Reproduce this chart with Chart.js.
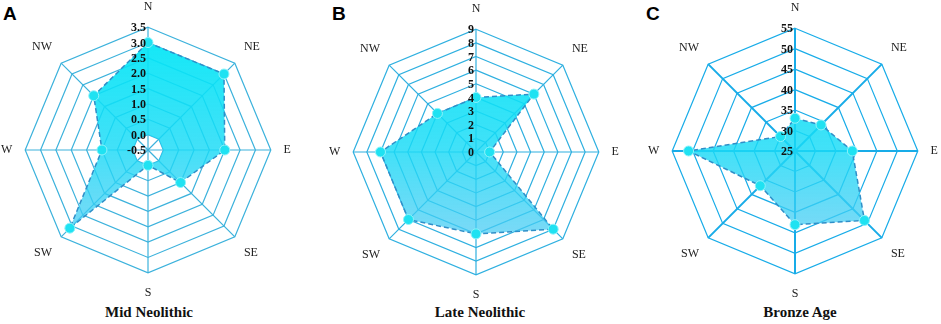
<!DOCTYPE html>
<html>
<head>
<meta charset="utf-8">
<script src="https://cdn.jsdelivr.net/npm/chart.js@4.4.0/dist/chart.umd.min.js"></script>
<style>
  body { margin: 0; width: 941px; height: 324px; overflow: hidden; background: #fff; position: relative; }
  canvas { position: absolute; }
  .letter { position: absolute; font: bold 19px "Liberation Sans", Arial, sans-serif; line-height: 19px; color: #000; }
  .title { position: absolute; width: 200px; text-align: center; font: bold 15px "Liberation Serif", "Times New Roman", serif; line-height: 15px; color: #111; }
</style>
</head>
<body>
<div class="letter" style="left:3px;top:4px">A</div>
<div class="letter" style="left:332px;top:4px">B</div>
<div class="letter" style="left:646px;top:4px">C</div>

<canvas id="chartA" width="300" height="300" style="left:-3px;top:0px;width:300px;height:300px"></canvas>
<canvas id="chartB" width="300" height="300" style="left:325px;top:2px;width:300px;height:300px"></canvas>
<canvas id="chartC" width="300" height="300" style="left:644px;top:1px;width:300px;height:300px"></canvas>

<div class="title" style="left:49px;top:305px">Mid Neolithic</div>
<div class="title" style="left:380px;top:305px">Late Neolithic</div>
<div class="title" style="left:700px;top:305px">Bronze Age</div>

<script>
const directions = ["N", "NE", "E", "SE", "S", "SW", "W", "NW"];

// values
const midNeolithic = [3.0, 3.0, 2.0, 1.0, 0.0, 3.1, 1.0, 2.0];
const lateNeolithic = [4, 6, 1, 8, 6, 7, 7, 4];
const bronzeAge = [33, 34, 39, 49, 43, 37, 51, 30];

const ticksA = ["-0.5", "0.0", "0.5", "1.0", "1.5", "2.0", "2.5", "3.0", "3.5"];
const ticksB = ["0", "1", "2", "3", "4", "5", "6", "7", "8", "9"];
const ticksC = ["25", "30", "35", "40", "45", "50", "55"];

// tick numbers sit just left of the N axis, on top of the fill
const tickLabels = {
  id: 'tickLabels',
  afterDatasetsDraw(chart) {
    const s = chart.scales.r;
    const ctx = chart.ctx;
    ctx.save();
    ctx.font = 'bold 12px "Liberation Serif", serif';
    ctx.fillStyle = '#111';
    ctx.textAlign = 'right';
    ctx.textBaseline = 'middle';
    s.ticks.forEach(t => {
      const d = s.getDistanceFromCenterForValue(t.value);
      ctx.fillText(t.label, s.xCenter - 2, s.yCenter - d + 1);
    });
    ctx.restore();
  }
};

function fillGradient(context) {
  const chart = context.chart;
  const s = chart.scales.r;
  if (!s || !chart.chartArea) return 'rgba(20,225,245,0.8)';
  const g = chart.ctx.createLinearGradient(0, s.yCenter - s.drawingArea, 0, s.yCenter + s.drawingArea);
  g.addColorStop(0, 'rgba(0,232,246,0.95)');
  g.addColorStop(0.5, 'rgba(25,218,246,0.82)');
  g.addColorStop(1, 'rgba(95,195,242,0.68)');
  return g;
}

function makeRadar(id, values, tickLabelsList, min, max, step, gridColor, angleWidth) {
  const ctx = document.getElementById(id).getContext('2d');
  return new Chart(ctx, {
    type: 'radar',
    data: {
      labels: directions,
      datasets: [{
        data: values,
        backgroundColor: fillGradient,
        borderColor: '#2f8fc8',
        borderWidth: 1.5,
        borderDash: [5, 3],
        fill: true,
        pointRadius: 5,
        pointBackgroundColor: '#1fe2f2',
        pointBorderColor: '#8ef2fa',
        pointBorderWidth: 1
      }]
    },
    options: {
      responsive: false,
      animation: false,
      layout: { padding: 0 },
      plugins: { legend: { display: false }, tooltip: { enabled: false } },
      scales: {
        r: {
          min: min,
          max: max,
          beginAtZero: false,
          grid: { color: gridColor, lineWidth: 1.2 },
          angleLines: { color: gridColor, lineWidth: angleWidth },
          ticks: {
            display: false,
            stepSize: step,
            callback: (v, i) => tickLabelsList[i]
          },
          pointLabels: {
            padding: 12.8,
            color: '#222',
            font: { family: '"Liberation Serif", "Times New Roman", serif', size: 12 }
          }
        }
      }
    },
    plugins: [tickLabels]
  });
}

makeRadar('chartA', midNeolithic, ticksA, -0.5, 3.5, 0.5, '#3cb2dc', 1.2);
makeRadar('chartB', lateNeolithic, ticksB, 0, 9, 1, '#2fb0e0', 1.2);
makeRadar('chartC', bronzeAge, ticksC, 25, 55, 5, '#18ace8', 2);
</script>
</body>
</html>
